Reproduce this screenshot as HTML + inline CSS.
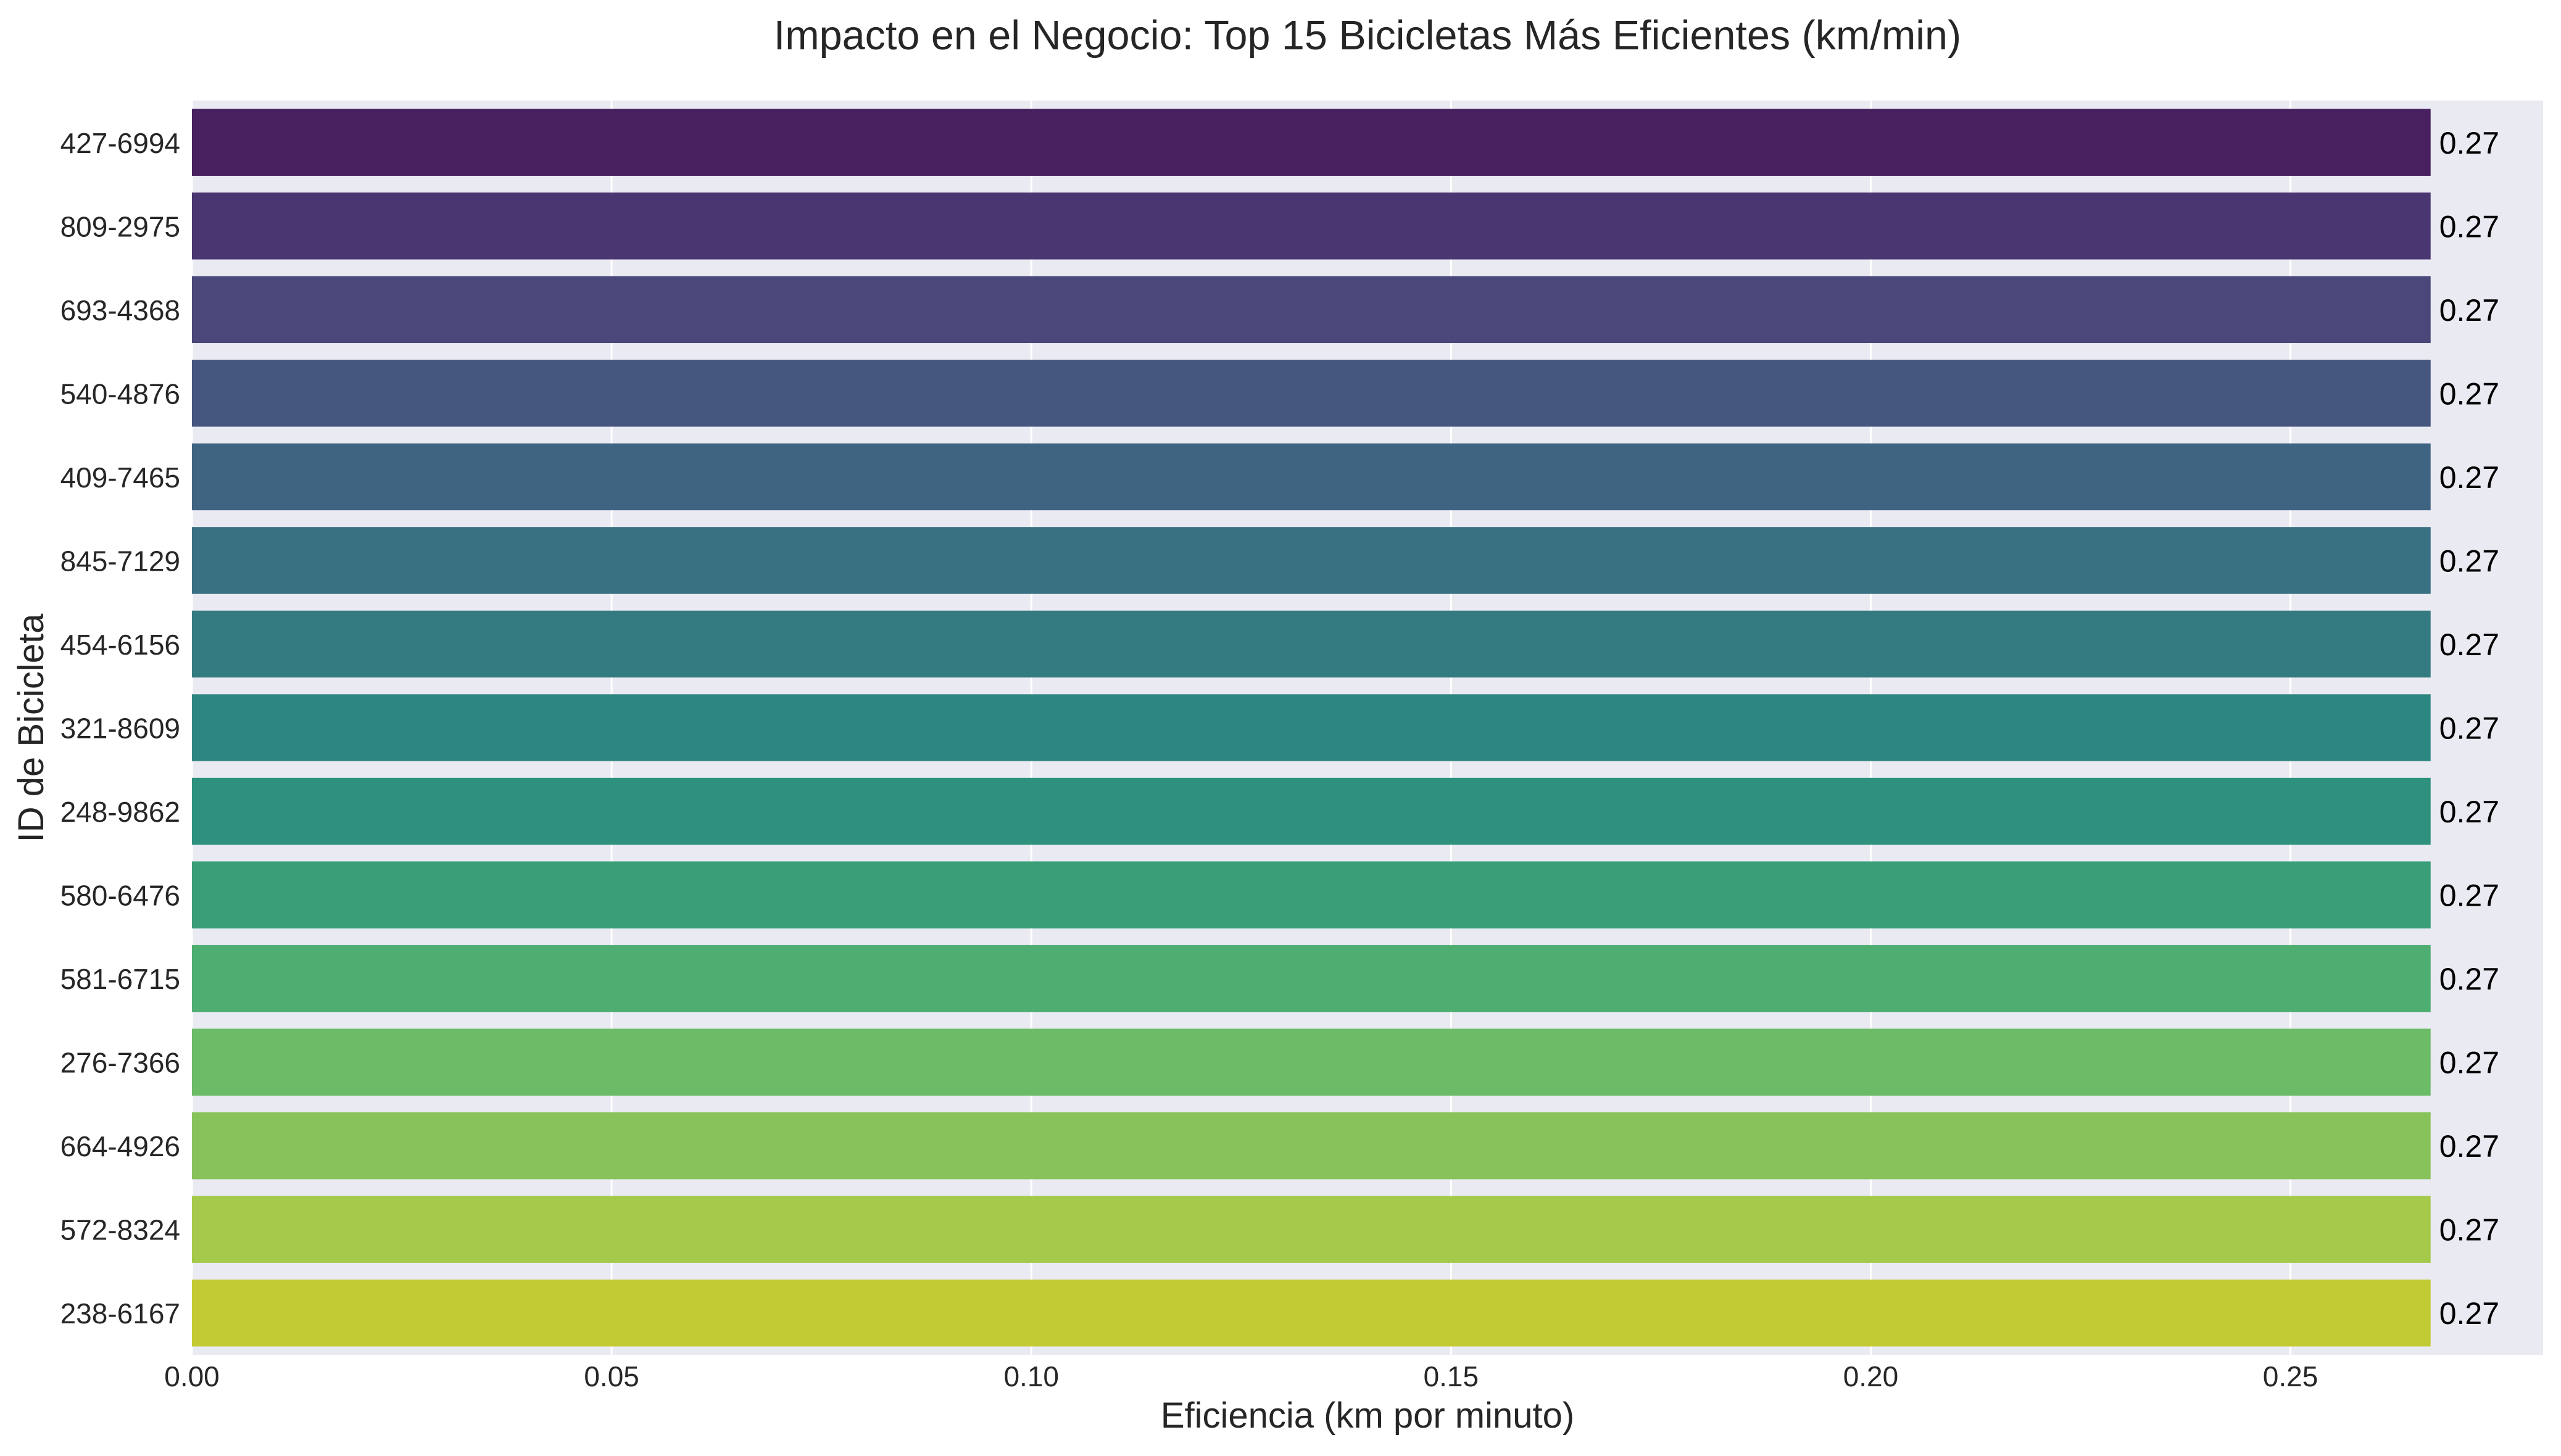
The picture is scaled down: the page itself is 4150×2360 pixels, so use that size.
<!DOCTYPE html>
<html><head><meta charset="utf-8"><style>
body{margin:0;background:#fff;}
svg text{font-family:"Liberation Sans",Arial,sans-serif;}
</style></head><body>
<svg id="chart" width="4150" height="2355" viewBox="0 0 4150 2355" xmlns="http://www.w3.org/2000/svg">
<rect x="0" y="0" width="4150" height="2355" fill="#fff"/>
<rect x="311" y="163" width="3810" height="2033" fill="#eaeaf2"/>
<g id="grid"></g>
<g id="bars"></g>
<g id="labels"></g>
<g id="xticks"></g>
<g id="yticks"></g>
<text x="2216" y="80" font-size="66.5" text-anchor="middle" fill="#262626">Impacto en el Negocio: Top 15 Bicicletas Más Eficientes (km/min)</text>
<text x="2216" y="2314" font-size="58" text-anchor="middle" fill="#262626">Eficiencia (km por minuto)</text>
<text x="70" y="1180" font-size="58" text-anchor="middle" fill="#262626" transform="rotate(-90 70 1180)">ID de Bicicleta</text>
</svg>
<script>
const categories=["427-6994","809-2975","693-4368","540-4876","409-7465","845-7129","454-6156","321-8609","248-9862","580-6476","581-6715","276-7366","664-4926","572-8324","238-6167"];
const values=[0.2667,0.2667,0.2667,0.2667,0.2667,0.2667,0.2667,0.2667,0.2667,0.2667,0.2667,0.2667,0.2667,0.2667,0.2667];
const valueLabels=["0.27","0.27","0.27","0.27","0.27","0.27","0.27","0.27","0.27","0.27","0.27","0.27","0.27","0.27","0.27"];
const xTicks=[0,0.05,0.10,0.15,0.20,0.25];
const xTickLabels=["0.00","0.05","0.10","0.15","0.20","0.25"];
const colors=["#48205f","#4a3670","#4a477a","#45577f","#3e6482","#397082","#337b81","#2e8680","#2d917d","#3a9e79","#4eae71","#6bbb67","#87c35a","#a5c94a","#c2cb33"];
const NS="http://www.w3.org/2000/svg";
const L=311,T=163,W=3810,H=2033,XMAX=0.2801;
const xs=v=>L+v/XMAX*W;
const band=H/categories.length;
const yc=i=>T+band*(i+0.5);
function mk(tag,attrs,parent){const e=document.createElementNS(NS,tag);for(const k in attrs)e.setAttribute(k,attrs[k]);document.getElementById(parent).appendChild(e);return e;}
xTicks.forEach((t,i)=>{
  const g=mk('line',{x1:xs(t),x2:xs(t),y1:T,y2:T+H,stroke:'#fff','stroke-width':3},'grid');
  
  
  const tx=mk('text',{x:xs(t),y:2247,'font-size':46,'text-anchor':'middle',fill:'#262626'},'xticks');
  tx.textContent=xTickLabels[i];
  
  
});
categories.forEach((c,i)=>{
  const bh=band*0.8;
  const r=mk('rect',{x:L,y:yc(i)-bh/2,width:xs(values[i])-L,height:bh,fill:colors[i]},'bars');
  
  
  const lb=mk('text',{x:xs(values[i])+14,y:yc(i)+18,'font-size':50,fill:'#000'},'labels');
  lb.textContent=valueLabels[i];
  
  
  const yt=mk('text',{x:292,y:yc(i)+17,'font-size':46,'text-anchor':'end',fill:'#262626'},'yticks');
  yt.textContent=c;
  
  
});
</script>
</body></html>
